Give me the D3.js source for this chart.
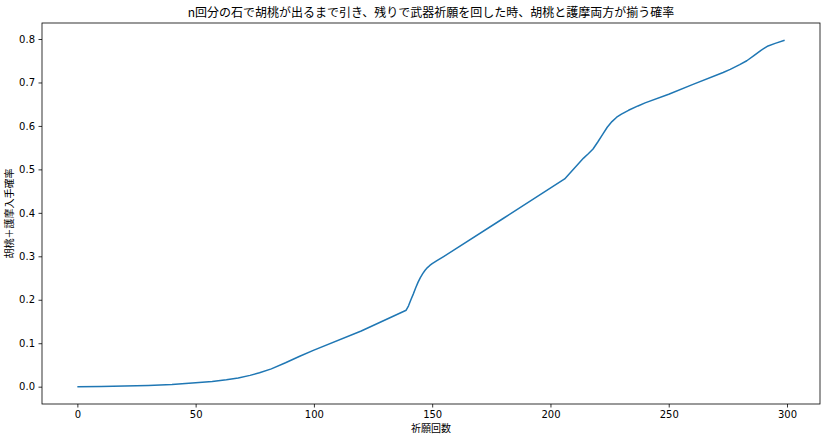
<!DOCTYPE html>
<html><head><meta charset="utf-8">
<script src="https://cdn.jsdelivr.net/npm/d3@7"></script>
<style>body{margin:0;background:#fff}svg{display:block}text{font-family:"Noto Sans CJK JP","DejaVu Sans",sans-serif}</style>
</head><body><svg id="c" width="826" height="438"></svg>
<script>
const pulls = [0,10,20,30,40,50,57,63,68,73,77,82,88,94,100,120,139,140,141,142,143,144,145,146,147,148,149,150,152,155,180,206,208,210,212,214,216,218,220,222,224,226,228,230,233,237,240,250,260,273,276,280,283,286,289,292,295,299];
const prob  = [0,0.0005,0.0015,0.003,0.005,0.009,0.012,0.016,0.020,0.026,0.032,0.041,0.055,0.070,0.084,0.128,0.176,0.186,0.200,0.213,0.227,0.240,0.251,0.260,0.268,0.274,0.279,0.283,0.290,0.300,0.387,0.478,0.490,0.502,0.514,0.526,0.536,0.547,0.563,0.580,0.597,0.610,0.620,0.627,0.636,0.646,0.653,0.673,0.695,0.723,0.730,0.741,0.750,0.762,0.774,0.784,0.790,0.797];
const xTicks = [0,50,100,150,200,250,300];
const yTicks = [0,0.1,0.2,0.3,0.4,0.5,0.6,0.7,0.8];
const title = "n回分の石で胡桃が出るまで引き、残りで武器祈願を回した時、胡桃と護摩両方が揃う確率";
const xLabel = "祈願回数";
const yLabel = "胡桃＋護摩入手確率";

const svg = d3.select("#c");
const L=42,R=820,T=23,B=404;
const xmin=0,xmax=299,ymin=0,ymax=d3.max(prob);
const xs=d3.scaleLinear().domain([xmin-(xmax-xmin)*0.05,xmax+(xmax-xmin)*0.05]).range([L,R]);
const ys=d3.scaleLinear().domain([ymin-(ymax-ymin)*0.05,ymax+(ymax-ymin)*0.05]).range([B,T]);

const xa=svg.append("g").attr("transform",`translate(0,${B})`).call(d3.axisBottom(xs).tickValues(xTicks).tickFormat(d3.format("d")).tickSize(3.5).tickPadding(3.5));
const ya=svg.append("g").attr("transform",`translate(${L},0)`).call(d3.axisLeft(ys).tickValues(yTicks).tickFormat(d3.format(".1f")).tickSize(3.5).tickPadding(3.5));
[xa,ya].forEach(a=>{a.select(".domain").remove();a.selectAll("text").attr("font-size",10).attr("fill","#000").style("font-family","'DejaVu Sans',sans-serif");a.selectAll("line").attr("stroke","#000").attr("stroke-width",0.8);});

svg.append("rect").attr("x",L).attr("y",T).attr("width",R-L).attr("height",B-T).attr("fill","none").attr("stroke","#000").attr("stroke-width",0.8);

const pts=pulls.map((p,i)=>[p,prob[i]]);
svg.append("path").datum(pts).attr("fill","none").attr("stroke","#1f77b4").attr("stroke-width",1.5).attr("stroke-linejoin","round")
 .attr("d",d3.line().x(d=>xs(d[0])).y(d=>ys(d[1])));

svg.append("text").attr("x",(L+R)/2).attr("y",17).attr("text-anchor","middle").attr("font-size",12).text(title);
svg.append("text").attr("x",(L+R)/2).attr("y",432).attr("text-anchor","middle").attr("font-size",10).text(xLabel);
svg.append("text").attr("transform",`translate(13,${(T+B)/2}) rotate(-90)`).attr("text-anchor","middle").attr("font-size",10).text(yLabel);
</script></body></html>
